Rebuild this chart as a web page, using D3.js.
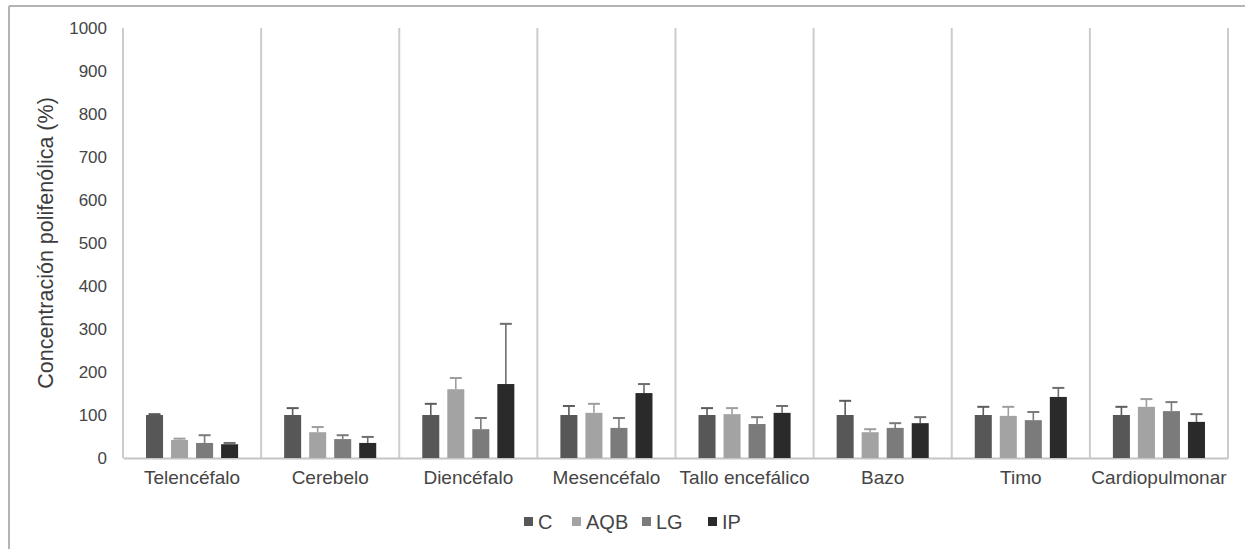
<!DOCTYPE html>
<html>
<head>
<meta charset="utf-8">
<script src="https://cdn.jsdelivr.net/npm/d3@7/dist/d3.min.js"></script>
<style>
body { margin: 0; background: #fff; }
svg { display: block; }
</style>
</head>
<body>
<script>
var categories = ["Telencéfalo", "Cerebelo", "Diencéfalo", "Mesencéfalo", "Tallo encefálico", "Bazo", "Timo", "Cardiopulmonar"];
var seriesNames = ["C", "AQB", "LG", "IP"];
var seriesColors = ["#575757", "#a3a3a3", "#7b7b7b", "#2a2a2a"];
var errorColors = ["#5c5c5c", "#9e9e9e", "#7b7b7b", "#6e6e6e"];
var valuesC   = [100, 100, 100, 100, 100, 100, 100, 100];
var valuesAQB = [42, 60, 160, 105, 102, 60, 98, 119];
var valuesLG  = [35, 44, 67, 70, 79, 70, 88, 109];
var valuesIP  = [32, 35, 172, 151, 105, 81, 142, 84];
var errC   = [2, 16, 26, 21, 16, 33, 19, 19];
var errAQB = [3, 12, 26, 21, 14, 7, 21, 18];
var errLG  = [18, 9, 26, 23, 16, 11, 19, 21];
var errIP  = [3, 14, 140, 21, 16, 14, 21, 18];
var yTicks = [0, 100, 200, 300, 400, 500, 600, 700, 800, 900, 1000];

var allValues = [valuesC, valuesAQB, valuesLG, valuesIP];
var allErrors = [errC, errAQB, errLG, errIP];

var width = 1245;
var height = 549;
var svg = d3.select('body')
    .append("svg")
    .attr("width", width)
    .attr("height", height);

// outer frame (left and top edges visible)
svg.append("line").attr("x1", 9).attr("x2", 9).attr("y1", 6).attr("y2", height)
    .attr("stroke", "#b4b4b4").attr("stroke-width", 2);
svg.append("line").attr("x1", 9).attr("x2", width).attr("y1", 6).attr("y2", 6)
    .attr("stroke", "#b4b4b4").attr("stroke-width", 2);

var plot = { left: 123, right: 1228, top: 28, bottom: 458 };

var xScale = d3.scaleBand()
    .domain(categories)
    .range([plot.left, plot.right])
    .paddingInner(0)
    .paddingOuter(0);

var inner = d3.scaleBand()
    .domain(seriesNames)
    .range([0, xScale.bandwidth()])
    .paddingInner(0.32)
    .paddingOuter(0.92);

var yScale = d3.scaleLinear()
    .domain([0, 1000])
    .range([plot.bottom, plot.top]);

// vertical separators
var seps = categories.map(function (c) { return xScale(c); }).concat([plot.right]);
svg.append("g").selectAll("line")
    .data(seps)
    .enter().append("line")
    .attr("x1", function (d) { return d; })
    .attr("x2", function (d) { return d; })
    .attr("y1", plot.top)
    .attr("y2", plot.bottom)
    .attr("stroke", "#cccccc")
    .attr("stroke-width", 2);

// y axis labels
var yAxis = d3.axisLeft(yScale).tickValues(yTicks).tickFormat(d3.format("d")).tickSize(0).tickPadding(16);
var yAxisGroup = svg.append("g")
    .attr("transform", "translate(" + plot.left + ",0)")
    .call(yAxis);
yAxisGroup.select(".domain").remove();
yAxisGroup.selectAll("text")
    .attr("font-family", "'Liberation Sans', Arial, sans-serif")
    .attr("font-size", 17)
    .attr("fill", "#454545");

// x axis
var xAxis = d3.axisBottom(xScale).tickSize(0).tickPadding(13);
var xAxisGroup = svg.append("g")
    .attr("transform", "translate(0," + plot.bottom + ")")
    .call(xAxis);
xAxisGroup.select(".domain")
    .attr("stroke", "#c4c4c4")
    .attr("stroke-width", 2);
xAxisGroup.selectAll("text")
    .attr("font-family", "'Liberation Sans', Arial, sans-serif")
    .attr("font-size", 19)
    .attr("fill", "#454545");

// bars
var barsGroup = svg.append("g");
seriesNames.forEach(function (s, si) {
    var g = barsGroup.append("g").classed("series", true);
    var data = categories.map(function (c, ci) {
        return { cat: c, value: allValues[si][ci], err: allErrors[si][ci] };
    });
    var cx = function (d) { return xScale(d.cat) + inner(s) + inner.bandwidth() / 2; };
    g.selectAll("line.err")
        .data(data)
        .enter().append("line")
        .attr("x1", cx)
        .attr("x2", cx)
        .attr("y1", function (d) { return yScale(d.value); })
        .attr("y2", function (d) { return yScale(d.value + d.err); })
        .attr("stroke", errorColors[si])
        .attr("stroke-width", 1.6);
    g.selectAll("line.cap")
        .data(data)
        .enter().append("line")
        .attr("x1", function (d) { return cx(d) - 6; })
        .attr("x2", function (d) { return cx(d) + 6; })
        .attr("y1", function (d) { return yScale(d.value + d.err); })
        .attr("y2", function (d) { return yScale(d.value + d.err); })
        .attr("stroke", errorColors[si])
        .attr("stroke-width", 2);
    g.selectAll("rect")
        .data(data)
        .enter().append("rect")
        .attr("x", function (d) { return xScale(d.cat) + inner(s); })
        .attr("y", function (d) { return yScale(d.value); })
        .attr("width", inner.bandwidth())
        .attr("height", function (d) { return plot.bottom - yScale(d.value); })
        .attr("fill", seriesColors[si]);
});

// y axis title
svg.append("text")
    .attr("transform", "translate(53,243) rotate(-90)")
    .attr("text-anchor", "middle")
    .attr("font-family", "'Liberation Sans', Arial, sans-serif")
    .attr("font-size", 21.5)
    .attr("fill", "#3c3c3c")
    .text("Concentración polifenólica (%)");

// legend
var legendX = [524, 572, 642, 708];
var legend = svg.append("g").attr("transform", "translate(0,522)");
seriesNames.forEach(function (s, i) {
    legend.append("rect")
        .attr("x", legendX[i])
        .attr("y", -5)
        .attr("width", 9)
        .attr("height", 9)
        .attr("fill", seriesColors[i]);
    legend.append("text")
        .attr("x", legendX[i] + 14)
        .attr("y", 7)
        .attr("font-family", "'Liberation Sans', Arial, sans-serif")
        .attr("font-size", 20)
        .attr("fill", "#454545")
        .text(s);
});
</script>
</body>
</html>
